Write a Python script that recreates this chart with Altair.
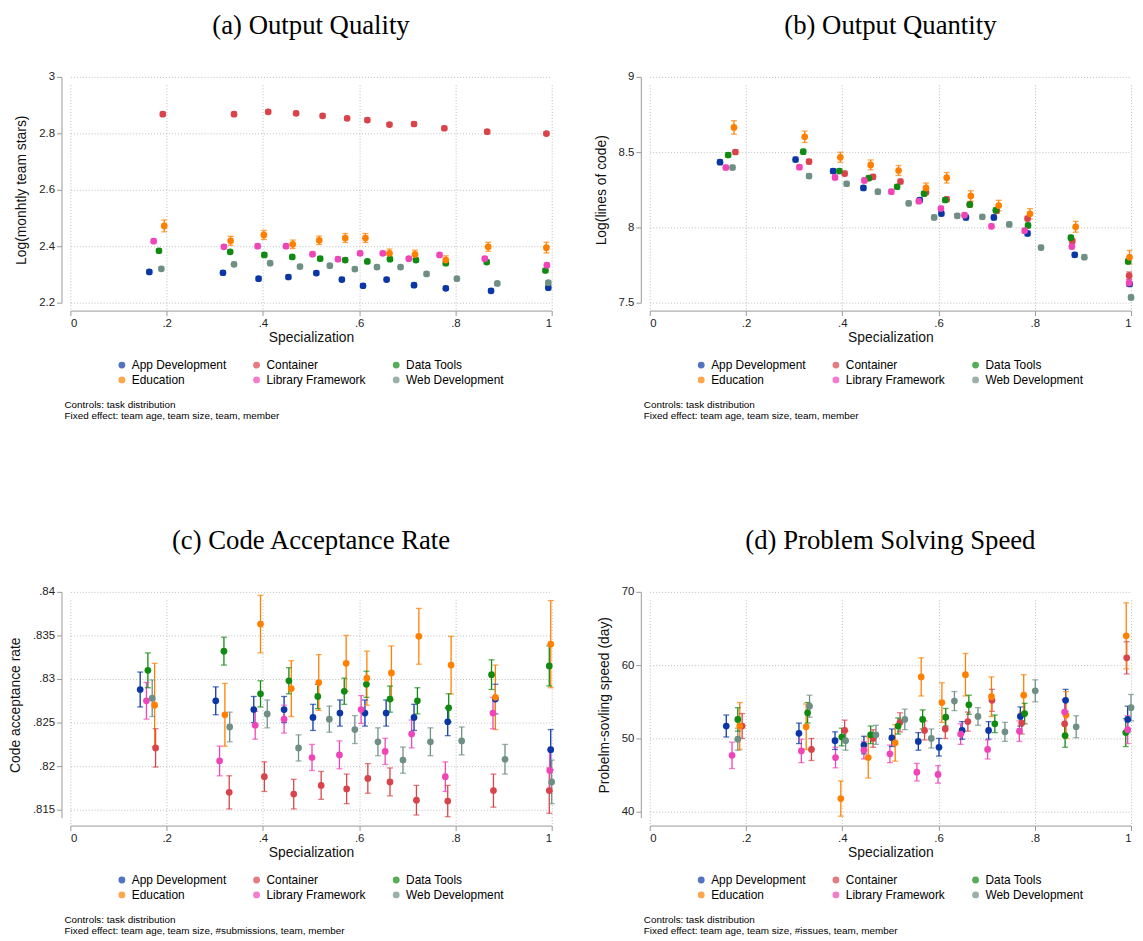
import pandas as pd
import altair as alt

series = ["App Development", "Container", "Data Tools", "Education",
          "Library Framework", "Web Development"]
colors = ["#0a36a6", "#d9434a", "#108a10", "#ff8000", "#ef45b8", "#6f8f85"]

# (a) Output Quality
qa_x = {
    "App Development": [.164, .317, .391, .453, .511, .564, .608, .657, .714, .780, .874, .993],
    "Container": [.192, .340, .411, .469, .524, .575, .617, .663, .714, .777, .866, .989],
    "Data Tools": [.184, .332, .403, .461, .519, .571, .617, .664, .718, .780, .865, .987],
    "Education": [.195, .333, .402, .462, .517, .571, .613, .663, .716, .780, .868, .989],
    "Library Framework": [.173, .319, .389, .448, .503, .556, .602, .649, .703, .767, .861, .990],
    "Web Development": [.189, .340, .415, .477, .539, .591, .637, .686, .740, .803, .887, .993],
}
qa_y = {
    "App Development": [2.309, 2.306, 2.285, 2.291, 2.305, 2.282, 2.260, 2.282, 2.262, 2.251, 2.242, 2.253],
    "Container": [2.868, 2.868, 2.876, 2.871, 2.862, 2.853, 2.847, 2.831, 2.833, 2.818, 2.806, 2.799],
    "Data Tools": [2.384, 2.380, 2.369, 2.362, 2.356, 2.351, 2.346, 2.354, 2.351, 2.340, 2.344, 2.314],
    "Education": [2.472, 2.419, 2.440, 2.407, 2.421, 2.429, 2.429, 2.375, 2.371, 2.351, 2.398, 2.395],
    "Library Framework": [2.418, 2.398, 2.400, 2.400, 2.372, 2.354, 2.375, 2.375, 2.356, 2.369, 2.356, 2.333],
    "Web Development": [2.320, 2.336, 2.340, 2.328, 2.331, 2.319, 2.326, 2.326, 2.302, 2.285, 2.268, 2.271],
}
qa_e = {
    "App Development": [.007] * 12,
    "Container": [.007] * 12,
    "Data Tools": [.007] * 12,
    "Education": [.021, .016, .016, .015, .015, .016, .016, .015, .015, .015, .016, .019],
    "Library Framework": [.007] * 12,
    "Web Development": [.007] * 12,
}

# (b) Output Quantity
qb_x = {
    "App Development": [.146, .303, .381, .444, .561, .606, .657, .715, .785, .883, .997],
    "Container": [.178, .331, .405, .464, .521, .574, .617, .665, .721, .785, .878, .996],
    "Data Tools": [.163, .319, .394, .455, .514, .570, .614, .665, .719, .786, .875, .994],
    "Education": [.175, .322, .396, .459, .517, .574, .617, .667, .725, .790, .885, .997],
    "Library Framework": [.158, .311, .385, .446, .502, .559, .605, .654, .710, .779, .877, .996],
    "Web Development": [.172, .331, .409, .474, .538, .591, .639, .691, .747, .813, .903, 1.0],
}
qb_y = {
    "App Development": [8.433, 8.451, 8.374, 8.262, 8.182, 8.092, 8.066, 8.066, 7.960, 7.818, 7.624],
    "Container": [8.501, 8.437, 8.358, 8.336, 8.305, 8.233, 8.187, 8.152, 8.110, 8.059, 7.910, 7.679],
    "Data Tools": [8.481, 8.503, 8.374, 8.327, 8.270, 8.224, 8.182, 8.152, 8.114, 8.013, 7.932, 7.774],
    "Education": [8.664, 8.602, 8.466, 8.415, 8.378, 8.262, 8.330, 8.209, 8.145, 8.090, 8.004, 7.802],
    "Library Framework": [8.398, 8.400, 8.332, 8.312, 8.237, 8.174, 8.125, 8.081, 8.007, 7.978, 7.873, 7.631],
    "Web Development": [8.398, 8.341, 8.290, 8.237, 8.160, 8.066, 8.077, 8.070, 8.020, 7.866, 7.802, 7.535],
}
qb_e = {
    "App Development": [.015] * 11,
    "Container": [.015] * 11 + [.025],
    "Data Tools": [.015] * 12,
    "Education": [.045, .038, .033, .033, .033, .033, .035, .035, .035, .035, .036, .045],
    "Library Framework": [.015] * 11 + [.022],
    "Web Development": [.015] * 12,
}

# (c) Code Acceptance Rate
qc_x = {
    "App Development": [.145, .302, .381, .444, .504, .560, .612, .656, .714, .784, .883, .998],
    "Container": [.177, .330, .403, .464, .521, .574, .618, .664, .719, .784, .879, .995],
    "Data Tools": [.161, .319, .395, .454, .514, .569, .615, .664, .721, .786, .875, .995],
    "Education": [.175, .321, .395, .459, .516, .573, .616, .667, .724, .791, .883, .998],
    "Library Framework": [.158, .310, .384, .444, .502, .559, .604, .654, .709, .779, .878, .996],
    "Web Development": [.170, .331, .409, .474, .538, .591, .639, .691, .748, .813, .903, 1.0],
}
qc_y = {
    "App Development": [.8288, .8275, .8265, .8265, .8256, .8261, .8261, .8261, .8256, .8251, .8277, .8219],
    "Container": [.8221, .8170, .8188, .8168, .8178, .8174, .8186, .8182, .8161, .8160, .8172, .8172],
    "Data Tools": [.8310, .8332, .8283, .8298, .8280, .8286, .8294, .8277, .8275, .8267, .8305, .8315],
    "Education": [.8270, .8259, .8363, .8289, .8296, .8318, .8301, .8307, .8349, .8316, .8279, .8340],
    "Library Framework": [.8275, .8206, .8247, .8254, .8210, .8213, .8265, .8217, .8237, .8188, .8261, .8195],
    "Web Development": [.8278, .8245, .8260, .8221, .8254, .8242, .8228, .8207, .8228, .8229, .8208, .8182],
}
qc_e = {
    "App Development": [.002, .0016, .0015, .0015, .0015, .0015, .0015, .0015, .0015, .0016, .0017, .0023],
    "Container": [.0022, .0019, .0017, .0017, .0016, .0017, .0017, .0016, .0017, .0018, .0019, .0026],
    "Data Tools": [.002, .0016, .0015, .0015, .0014, .0015, .0015, .0015, .0015, .0016, .0017, .0023],
    "Education": [.0048, .0036, .0033, .0032, .0032, .0032, .0031, .0031, .0032, .0033, .0037, .0050],
    "Library Framework": [.0021, .0017, .0016, .0016, .0015, .0016, .0016, .0015, .0016, .0017, .0018, .0024],
    "Web Development": [.0021, .0017, .0016, .0015, .0015, .0016, .0016, .0015, .0016, .0016, .0017, .0025],
}

# (d) Problem Solving Speed
qd_x = {
    "App Development": [.159, .310, .385, .445, .503, .558, .601, .649, .704, .770, .864, .993],
    "Container": [.192, .336, .405, .464, .520, .571, .614, .661, .711, .773, .862, .991],
    "Data Tools": [.183, .328, .399, .459, .516, .567, .615, .663, .717, .779, .863, .989],
    "Education": [.187, .325, .397, .454, .510, .564, .607, .656, .710, .777, .865, .990],
    "Library Framework": [.171, .315, .386, .445, .499, .555, .599, .646, .702, .768, .862, .993],
    "Web Development": [.183, .332, .407, .470, .530, .585, .633, .682, .738, .801, .886, 1.0],
}
qd_y = {
    "App Development": [51.7, 50.7, 49.7, 49.1, 50.1, 49.6, 48.8, 51.1, 51.1, 53.0, 55.2, 52.6],
    "Container": [51.7, 48.5, 51.1, 50.0, 52.2, 51.1, 51.3, 52.3, 55.2, 52.1, 52.0, 61.0],
    "Data Tools": [52.6, 53.5, 50.2, 50.5, 51.7, 52.6, 52.9, 54.6, 52.0, 53.4, 50.4, 50.8],
    "Education": [51.7, 51.6, 41.8, 47.4, 49.4, 58.4, 54.9, 58.7, 55.7, 55.9, 53.2, 64.0],
    "Library Framework": [47.7, 48.3, 47.4, 48.4, 47.9, 45.4, 45.1, 50.6, 48.5, 51.0, 53.6, 51.2],
    "Web Development": [49.9, 54.4, 49.7, 50.5, 52.6, 50.0, 55.1, 53.0, 50.9, 56.5, 51.6, 54.2],
}
qd_e = {
    "App Development": [1.5, 1.4, 1.2, 1.2, 1.2, 1.2, 1.2, 1.2, 1.2, 1.3, 1.5, 1.8],
    "Container": [1.7, 1.5, 1.4, 1.2, 1.3, 1.3, 1.3, 1.3, 1.5, 1.5, 1.7, 2.2],
    "Data Tools": [1.6, 1.4, 1.2, 1.2, 1.1, 1.3, 1.2, 1.3, 1.2, 1.4, 1.6, 1.9],
    "Education": [3.2, 3.1, 2.4, 2.8, 2.5, 2.6, 2.7, 2.9, 2.7, 2.8, 3.2, 4.5],
    "Library Framework": [1.8, 1.6, 1.4, 1.2, 1.2, 1.2, 1.2, 1.4, 1.3, 1.4, 1.7, 1.9],
    "Web Development": [1.5, 1.5, 1.3, 1.3, 1.4, 1.3, 1.3, 1.2, 1.3, 1.5, 1.5, 1.8],
}

W, H = 486, 228


def build(xs, ys, es):
    rows = []
    for s in series:
        for x, y, e in zip(xs[s], ys[s], es[s]):
            rows.append({"series": s, "x": x, "y": y, "lo": y - e, "hi": y + e})
    return pd.DataFrame(rows)


def panel(xs, ys, es, title, ytitle, ydomain, yvalues, ylabels, note2):
    df = build(xs, ys, es)
    color = alt.Color("series:N", scale=alt.Scale(domain=series, range=colors),
                      legend=alt.Legend(title=None, orient="none", legendX=46,
                                        legendY=H + 57, columns=3, columnPadding=24,
                                        direction="horizontal",
                                        symbolType="circle", symbolSize=48,
                                        labelFontSize=12, rowPadding=3,
                                        symbolStrokeWidth=0))
    x = alt.X("x:Q", title="Specialization",
              scale=alt.Scale(domain=[0, 1], nice=False),
              axis=alt.Axis(values=[0, .2, .4, .6, .8, 1], titlePadding=2,
                            labelExpr="datum.value == 0 ? '0' : datum.value == 1 ? '1' : replace(format(datum.value, '.1f'), '0.', '.')"))
    yscale = alt.Scale(domain=ydomain, nice=False, zero=False)
    yaxis = alt.Axis(values=yvalues, labelExpr=ylabels, offset=9)
    base = alt.Chart(df)
    rules = base.mark_rule(strokeWidth=1.3).encode(
        x=x, y=alt.Y("lo:Q", title=ytitle, scale=yscale, axis=yaxis), y2="hi:Q",
        color=color)
    cap_lo = base.mark_tick(orient="horizontal", size=6, thickness=1.3).encode(
        x="x:Q", y="lo:Q", color=alt.Color("series:N"))
    cap_hi = base.mark_tick(orient="horizontal", size=6, thickness=1.3).encode(
        x="x:Q", y="hi:Q", color=alt.Color("series:N"))
    pts = base.mark_circle(size=46, opacity=1).encode(
        x="x:Q", y="y:Q", color=alt.Color("series:N"))
    n1 = alt.Chart(pd.DataFrame({"t": ["Controls: task distribution"]})).mark_text(
        align="left", baseline="middle", fontSize=10, font="Liberation Sans").encode(
        x=alt.value(-6), y=alt.value(H + 103), text="t:N")
    n2 = alt.Chart(pd.DataFrame({"t": [note2]})).mark_text(
        align="left", baseline="middle", fontSize=10, font="Liberation Sans").encode(
        x=alt.value(-6), y=alt.value(H + 114), text="t:N")
    return alt.layer(rules, cap_lo, cap_hi, pts, n1, n2).properties(
        width=W, height=H, title=title)


pa = panel(qa_x, qa_y, qa_e, "(a) Output Quality", "Log(monhtly team stars)",
           [2.2, 3.0], [2.2, 2.4, 2.6, 2.8, 3.0], "format(datum.value, '~g')",
           "Fixed effect: team age, team size, team, member")
pb = panel(qb_x, qb_y, qb_e, "(b) Output Quantity", "Log(lines of code)",
           [7.5, 9.0], [7.5, 8, 8.5, 9], "format(datum.value, '~g')",
           "Fixed effect: team age, team size, team, member")
pc = panel(qc_x, qc_y, qc_e, "(c) Code Acceptance Rate", "Code acceptance rate",
           [0.8141, 0.84], [.815, .82, .825, .83, .835, .84],
           "replace(format(datum.value, '.3~f'), '0.', '.')",
           "Fixed effect: team age, team size, #submissions, team, member")
pd_ = panel(qd_x, qd_y, qd_e, "(d) Problem Solving Speed", "Probelm-sovling speed (day)",
            [39.2, 70], [40, 50, 60, 70], "format(datum.value, '~g')",
            "Fixed effect: team age, team size, #issues, team, member")

top = alt.hconcat(pa, pb, spacing=42).resolve_scale(color="independent")
bottom = alt.hconcat(pc, pd_, spacing=42).resolve_scale(color="independent")
chart = alt.vconcat(top, bottom, spacing=108).resolve_scale(color="independent").properties(
    padding=0
).configure(font="Liberation Sans").configure_view(stroke=None).configure_axis(
    grid=True, gridDash=[1, 2], gridColor="#bbbbbb", domainColor="#999999",
    tickColor="#999999", labelFontSize=11.5, titleFontSize=14, titleFontWeight="normal",
    labelColor="#222222", titleColor="#111111", offset=8, labelAngle=0
).configure_axisY(titlePadding=10).configure_title(
    font="Liberation Serif", fontSize=27, fontWeight="normal", offset=31, anchor="middle"
).configure_legend(labelFont="Liberation Sans")

chart.save("out.html", embed_options={"renderer": "svg", "actions": False})
